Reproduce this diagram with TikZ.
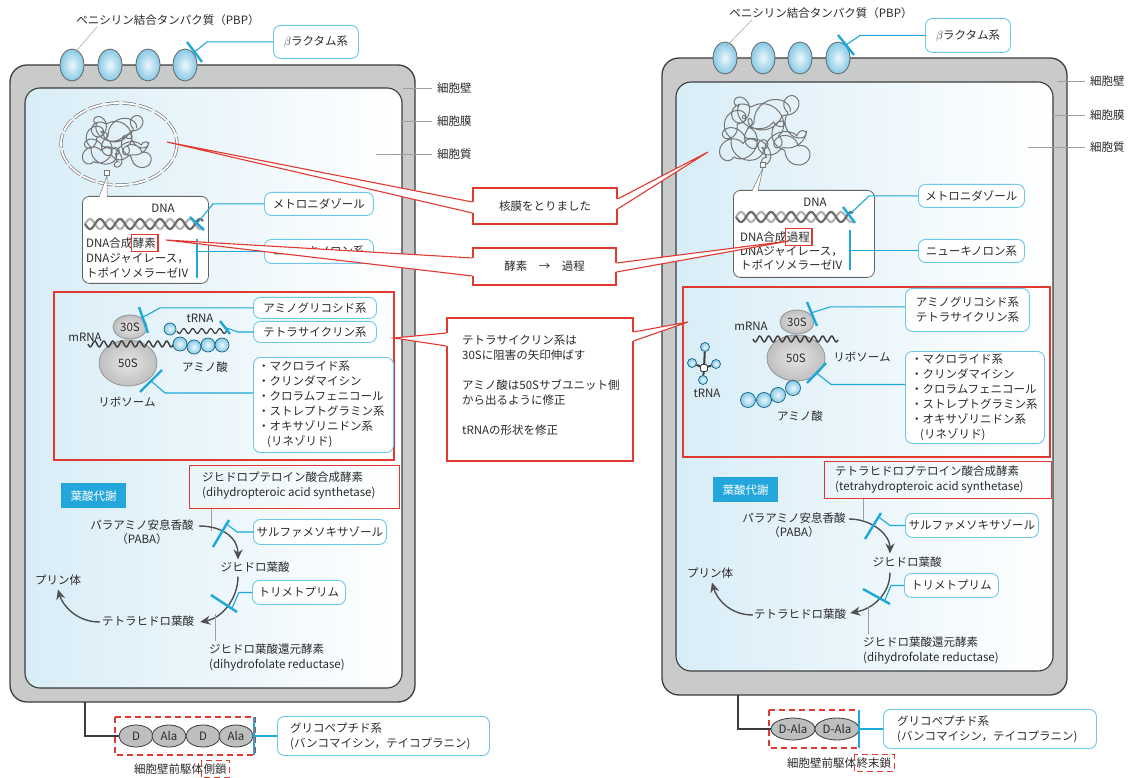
\documentclass[tikz,border=0pt]{standalone}
\usepackage{fontspec}
\setmainfont{Noto Sans CJK JP}
\usepackage{tikz}
\usetikzlibrary{arrows.meta,positioning,calc,shapes.geometric}

\definecolor{ink}{HTML}{2A2A2A}
\definecolor{edge}{HTML}{3C3C3C}
\definecolor{wallgray}{HTML}{C9CACA}
\definecolor{cellblue}{HTML}{D8EDF7}
\definecolor{pbpin}{HTML}{EEF7FB}
\definecolor{pbpout}{HTML}{86C9E6}
\definecolor{drugblue}{HTML}{1CA8DA}
\definecolor{drugedge}{HTML}{6CC8EA}
\definecolor{notered}{HTML}{E03A30}
\definecolor{tagblue}{HTML}{23A6DB}
\definecolor{alagray}{HTML}{BDBEBE}

\tikzset{
  wall/.style={draw=edge, line width=1.3pt, fill=wallgray, rounded corners=17pt},
  plasma/.style={draw=edge, line width=1.1pt, left color=cellblue, right color=white, rounded corners=15pt},
  pbp/.style={ellipse, draw=edge!80, line width=0.8pt, inner color=pbpin, outer color=pbpout,
    minimum width=24pt, minimum height=32pt, inner sep=0pt},
  lbl/.style={inner sep=0pt},
  lead/.style={draw=gray!75, line width=0.5pt},
  drug/.style={draw=drugedge, line width=0.9pt, rounded corners=7pt, fill=white, inner sep=0pt},
  block/.style={draw=drugblue, line width=2.4pt},
  link/.style={draw=drugblue, line width=1.1pt},
  dnabox/.style={draw=edge!80, line width=0.8pt, rounded corners=7pt, fill=white, inner sep=0pt},
  tangle/.style={draw=edge!70, line width=1pt},
  envelope/.style={draw=edge!70, line width=0.7pt, double=white, double distance=1.8pt, dash pattern=on 14pt off 3pt},
  strandA/.style={draw=edge!75, line width=2.2pt},
  strandB/.style={draw=edge!40, line width=2.2pt},
  rnaline/.style={draw=edge, line width=1.4pt},
  sub/.style={ellipse, draw=edge!55, line width=0.8pt, inner color=gray!20, outer color=gray!50, inner sep=0pt},
  amino/.style={circle, draw=drugblue!60!black, line width=0.7pt, inner color=pbpin, outer color=pbpout,
    minimum size=14pt, inner sep=0pt},
  redbox/.style={draw=notered, line width=1.1pt},
  reddash/.style={draw=notered, line width=1.1pt, dash pattern=on 6pt off 4pt},
  note/.style={draw=notered, line width=1.1pt, fill=white, inner sep=0pt},
  tail/.style={draw=notered, line width=1.1pt},
  tag/.style={fill=tagblue, text=white, minimum width=65pt, minimum height=25pt, inner sep=0pt},
  flow/.style={draw=edge!90, line width=1.4pt, -{Stealth[length=10pt, width=9pt]}},
  ala/.style={ellipse, draw=edge, line width=0.8pt, fill=alagray, minimum height=22pt, inner sep=0pt},
}

% tail of a note box: tip, upper attach, lower attach, overlap into the box
\newcommand\notetail[4]{%
  \fill[white] (#1) -- (#2) -- ($(#2)+(#4,0)$) -- ($(#3)+(#4,0)$) -- (#3) -- cycle;
  \draw[tail] (#2) -- (#1) -- (#3);}

\begin{document}
\begin{tikzpicture}[x=1pt, y=-1pt, font=\fontsize{11.5}{15}\selectfont, text=ink]
  \useasboundingbox (0,0) rectangle (1136,778);
  \fill[white] (0,0) rectangle (1136,778);

  %% ---------------- left cell ----------------
  % cell wall and membrane
  \draw[wall] (10,65) rectangle (415,702);
  \draw[plasma] (25,88) rectangle (402,688);

  % penicillin binding proteins
  \foreach \i/\x in {1/72,2/110,3/148,4/185}
    \node[pbp] (pbpL\i) at (\x,65) {};
  \node[lbl] (pbpTxtL) at (168,20) {ペニシリン結合タンパク質（PBP）};
  \draw[lead] ($(pbpTxtL.south west)+(21,1)$) -- ($(pbpL1.north)+(3,4)$);

  \node[drug, minimum width=85, minimum height=33, anchor=north west] (betaL) at (273,25) {$\beta$ラクタム系};
  \coordinate (bbL1) at (187,42);
  \coordinate (bbL2) at (202,62);
  \draw[block] (bbL1) -- (bbL2);
  \draw[link] ($(bbL1)!.5!(bbL2)$) -- ($(betaL.west)+(-66,0)$) -- (betaL.west);

  % wall / membrane / cytoplasm labels
  \node[lbl, anchor=west] (wallTxtL) at (437,88) {細胞壁};
  \node[lbl, anchor=west] (membTxtL) at (437,121) {細胞膜};
  \node[lbl, anchor=west] (cytoTxtL) at (437,154) {細胞質};
  \coordinate (wallPtL) at (403,88);
  \coordinate (membPtL) at (401,121);
  \coordinate (cytoPtL) at (376,154);
  \draw[lead] (wallPtL) -- ($(wallTxtL.west)+(-5,0)$);
  \draw[lead] (membPtL) -- ($(membTxtL.west)+(-5,0)$);
  \draw[lead] (cytoPtL) -- ($(cytoTxtL.west)+(-5,0)$);

  % nucleoid
  \draw[envelope] (119,144) ellipse [x radius=58, y radius=41];
  \draw[tangle] plot[domain=0:4320, samples=560, smooth, variable=\t]
    ({117+23*cos(0.23*\t+30)+9*cos(\t)+3*cos(2.7*\t)}, {142+16*sin(0.31*\t)+8*sin(\t)+3*sin(2.7*\t)});
  \node[draw=edge!70, fill=white, line width=0.6pt, minimum size=5pt, inner sep=0pt] (sqL) at (107,173) {};

  % DNA box
  \node[dnabox, minimum width=126, minimum height=87, anchor=north west] (dnaL) at (82,196) {};
  \fill[white] ($(dnaL.north west)+(17,1)$) -- (sqL.south) -- ($(dnaL.north west)+(25,1)$) -- cycle;
  \draw[lead, draw=edge!70] ($(dnaL.north west)+(17,1)$) -- (sqL.south) -- ($(dnaL.north west)+(25,1)$);
  \node[lbl] (dnaTxtL) at (163,208) {DNA};
  \draw[strandB] plot[domain=0:118, samples=120, variable=\t] ({85+\t}, {224+5*sin(18*\t+180)});
  \draw[strandA] plot[domain=0:118, samples=120, variable=\t] ({85+\t}, {224+5*sin(18*\t)});
  \node[lbl, anchor=base west] (synL) at (86,247.4) {DNA合成};
  \node[lbl, anchor=base west] (enzL) at (synL.base east) {酵素};
  \draw[redbox] ($(enzL.north west)+(-1,-3)$) rectangle ($(enzL.south east)+(2,3)$);
  \node[lbl, anchor=base west] (gyrL) at (86,262.4) {DNAジャイレース，};
  \node[lbl, anchor=base west] (topoL) at (86,277.4) {トポイソメラーゼIV};

  \node[drug, minimum width=109, minimum height=23, anchor=north west] (metL) at (264,192) {メトロニダゾール};
  \coordinate (mbL1) at (190,217);
  \coordinate (mbL2) at (204,230);
  \draw[block] (mbL1) -- (mbL2);
  \draw[link] ($(mbL1)!.5!(mbL2)$) -- ($(metL.west)+(-51,0)$) -- (metL.west);

  \node[drug, minimum width=109, minimum height=24, anchor=north west] (quiL) at (264,239) {ニューキノロン系};
  \coordinate (qbL1) at (197,239);
  \coordinate (qbL2) at (197,278);
  \draw[block] (qbL1) -- (qbL2);
  \draw[link] (qbL1 |- quiL.west) -- (quiL.west);

  % ribosome
  \draw[redbox] (54,292) rectangle (394,460);
  \node[sub, minimum width=58, minimum height=46] (s50L) at (128,363) {50S};
  \node[sub, minimum width=34, minimum height=24] (s30L) at (130,327) {30S};
  \draw[rnaline] plot[domain=88:178, samples=90, variable=\t] (\t, {344+3*sin(40*(\t-88))});
  \node[lbl] (mrnaL) at (85,337) {mRNA};
  \node[amino, minimum size=12pt] (trBallL) at (170,329) {};
  \draw[rnaline, line width=1.2pt] plot[domain=177:228, samples=60, variable=\t] (\t, {331+2.5*sin(40*(\t-177))});
  \node[lbl] (trnaL) at (200,318) {tRNA};
  \foreach \n/\x/\y in {1/180/344,2/194/347,3/208/345,4/222/345}
    \node[amino] (aaL\n) at (\x,\y) {};
  \node[lbl] (aaTxtL) at (205,367) {アミノ酸};
  \node[lbl] (riboTxtL) at (127,402) {リボソーム};

  \node[drug, minimum width=123, minimum height=21, anchor=north west] (amiL) at (253,297) {アミノグリコシド系};
  \node[drug, minimum width=123, minimum height=21, anchor=north west] (tetL) at (253,321) {テトラサイクリン系};
  \coordinate (abL1) at (139,307);
  \coordinate (abL2) at (148,333);
  \draw[block] (abL1) -- (abL2);
  \draw[link] ($(abL1)!.4!(abL2)$) -- ($(amiL.west)+(-93,0)$) -- (amiL.west);
  \coordinate (tbL1) at (220,321);
  \coordinate (tbL2) at (230,334);
  \draw[block] (tbL1) -- (tbL2);
  \draw[link] ($(tbL1)!.5!(tbL2)$) -- ($(tetL.west)+(-15,0)$) -- (tetL.west);

  \node[drug, minimum width=140, minimum height=95, anchor=north west] (macL) at (253,357) {};
  \node[lbl, anchor=west, align=left] (macTxtL) at (258,404)
    {・マクロライド系\\・クリンダマイシン\\・クロラムフェニコール\\・ストレプトグラミン系\\・オキサゾリニドン系\\\hspace*{9pt}(リネゾリド)};
  \coordinate (mlL1) at (140,392);
  \coordinate (mlL2) at (162,370);
  \draw[block] (mlL1) -- (mlL2);
  \draw[link] ($(mlL1)!.5!(mlL2)$) -- ($(macL.west)+(-88,-12)$) -- ($(macL.west)+(0,-12)$);

  % folate metabolism
  \node[tag, anchor=north west] (folTagL) at (61,483) {葉酸代謝};
  \node[redbox, minimum width=210, minimum height=43, anchor=north west, inner sep=0pt] (dhpsL) at (189,465) {};
  \node[lbl, anchor=west, align=left] (dhpsTxtL) at (202,486) {ジヒドロプテロイン酸合成酵素\\(dihydropteroic acid synthetase)};
  \coordinate (dhpsPtL) at (211,531);
  \draw[lead] (dhpsL.south -| dhpsPtL) -- (dhpsPtL);

  \node[lbl] (pabaL) at (142,525) {パラアミノ安息香酸};
  \node[lbl] (pabaAbbL) at (142,539) {（PABA）};
  \node[lbl] (dhfL) at (255,567) {ジヒドロ葉酸};
  \node[lbl] (thfL) at (148,621) {テトラヒドロ葉酸};
  \node[lbl] (purL) at (58,580) {プリン体};
  \draw[flow] ($(pabaL.east)+(5,1)$) .. controls +(26,0) and +(0,-20) .. ($(dhfL.north)+(-17,-2)$);
  \draw[flow] ($(dhfL.south)+(-17,4)$) .. controls +(0,22) and +(22,-4) .. ($(thfL.east)+(6,1)$);
  \draw[flow] ($(thfL.west)+(-2,1)$) .. controls +(-25,0) and +(4,14) .. ($(purL.south)+(0,4)$);

  \node[drug, minimum width=133, minimum height=25, anchor=north west] (sulL) at (253,519) {サルファメソキサゾール};
  \coordinate (sbL1) at (213,547);
  \coordinate (sbL2) at (229,520);
  \draw[block] (sbL1) -- (sbL2);
  \draw[link] ($(sbL1)!.85!(sbL2)$) -- ($(sulL.west)+(-16,0)$) -- (sulL.west);

  \node[drug, minimum width=93, minimum height=24, anchor=north west] (triL) at (252,580) {トリメトプリム};
  \coordinate (tmL1) at (211,595);
  \coordinate (tmL2) at (237,612);
  \draw[block] (tmL1) -- (tmL2);
  \draw[link] ($(tmL1)!.8!(tmL2)$) -- ($(triL.west)+(-13,0)$) -- (triL.west);

  \node[lbl, anchor=west, align=left] (dhfrTxtL) at (209,658) {ジヒドロ葉酸還元酵素\\(dihydrofolate reductase)};
  \coordinate (dhfrPtL) at (215,614);
  \draw[lead] (dhfrPtL) -- ($(dhfrPtL |- dhfrTxtL.north)+(0,-3)$);

  % cell wall precursor
  \node[ala, minimum width=34] (dL1) at (136,736) {D};
  \node[ala, minimum width=34] (alaL1) at (169,736) {Ala};
  \node[ala, minimum width=34] (dL2) at (203,736) {D};
  \node[ala, minimum width=34] (alaL2) at (236,736) {Ala};
  \coordinate (stemL) at (85,702);
  \draw[draw=edge, line width=1.2pt] (stemL) |- (dL1.west);
  \draw[reddash] (115,717) rectangle (255,755);
  \node[drug, minimum width=212, minimum height=39, anchor=north west] (glyL) at (277,716) {};
  \node[lbl, anchor=west, align=left] (glyTxtL) at (290,736) {グリコペプチド系\\(バンコマイシン，テイコプラニン)};
  \coordinate (gbL1) at (254,717);
  \coordinate (gbL2) at (254,755);
  \draw[block] (gbL1) -- (gbL2);
  \draw[link] (gbL1 |- glyL.west) -- (glyL.west);
  \node[lbl, anchor=base west] (precL) at (134,773.4) {細胞壁前駆体};
  \node[lbl, anchor=base west] (sideL) at (precL.base east) {側鎖};
  \draw[reddash] ($(sideL.north west)+(-2,-3)$) rectangle ($(sideL.south east)+(3,3)$);

  %% ---------------- right cell ----------------
  \draw[wall] (662,58) rectangle (1067,695);
  \draw[plasma] (676,82) rectangle (1053,671);

  \foreach \i/\x in {1/725,2/763,3/800,4/838}
    \node[pbp] (pbpR\i) at (\x,58) {};
  \node[lbl] (pbpTxtR) at (821,13) {ペニシリン結合タンパク質（PBP）};
  \draw[lead] ($(pbpTxtR.south west)+(23,1)$) -- ($(pbpR1.north)+(1,5)$);

  \node[drug, minimum width=85, minimum height=34, anchor=north west] (betaR) at (925,18) {$\beta$ラクタム系};
  \coordinate (bbR1) at (838,35);
  \coordinate (bbR2) at (854,55);
  \draw[block] (bbR1) -- (bbR2);
  \draw[link] ($(bbR1)!.5!(bbR2)$) -- ($(betaR.west)+(-65,0)$) -- (betaR.west);

  \node[lbl, anchor=west] (wallTxtR) at (1090,81) {細胞壁};
  \node[lbl, anchor=west] (membTxtR) at (1090,115) {細胞膜};
  \node[lbl, anchor=west] (cytoTxtR) at (1090,147) {細胞質};
  \coordinate (wallPtR) at (1057,81);
  \coordinate (membPtR) at (1053,115);
  \coordinate (cytoPtR) at (1028,147);
  \draw[lead] (wallPtR) -- ($(wallTxtR.west)+(-5,0)$);
  \draw[lead] (membPtR) -- ($(membTxtR.west)+(-5,0)$);
  \draw[lead] (cytoPtR) -- ($(cytoTxtR.west)+(-5,0)$);

  % nucleoid without envelope
  \draw[tangle] plot[domain=0:4320, samples=560, smooth, variable=\t]
    ({765+31*cos(0.23*\t+30)+11*cos(\t)+4*cos(2.7*\t)}, {131+22*sin(0.31*\t)+10*sin(\t)+4*sin(2.7*\t)});
  \node[draw=edge!70, fill=white, line width=0.6pt, minimum size=5pt, inner sep=0pt] (sqR) at (763,165) {};

  \node[dnabox, minimum width=141, minimum height=87, anchor=north west] (dnaR) at (733,190) {};
  \fill[white] ($(dnaR.north west)+(19,1)$) -- (sqR.south) -- ($(dnaR.north west)+(25,1)$) -- cycle;
  \draw[lead, draw=edge!70] ($(dnaR.north west)+(19,1)$) -- (sqR.south) -- ($(dnaR.north west)+(25,1)$);
  \node[lbl] (dnaTxtR) at (815,202) {DNA};
  \draw[strandB] plot[domain=0:117, samples=120, variable=\t] ({736+\t}, {217+5*sin(18*\t+180)});
  \draw[strandA] plot[domain=0:117, samples=120, variable=\t] ({736+\t}, {217+5*sin(18*\t)});
  \node[lbl, anchor=base west] (synR) at (740,241.4) {DNA合成};
  \node[lbl, anchor=base west] (procR) at (synR.base east) {過程};
  \draw[redbox] ($(procR.north west)+(-1,-3)$) rectangle ($(procR.south east)+(2,3)$);
  \node[lbl, anchor=base west] (gyrR) at (740,255.4) {DNAジャイレース，};
  \node[lbl, anchor=base west] (topoR) at (740,269.4) {トポイソメラーゼIV};

  \node[drug, minimum width=106, minimum height=23, anchor=north west] (metR) at (918,184) {メトロニダゾール};
  \coordinate (mbR1) at (843,207);
  \coordinate (mbR2) at (855,223);
  \draw[block] (mbR1) -- (mbR2);
  \draw[link] ($(mbR1)!.5!(mbR2)$) -- ($(metR.west)+(-49,0)$) -- (metR.west);

  \node[drug, minimum width=106, minimum height=23, anchor=north west] (quiR) at (918,239) {ニューキノロン系};
  \coordinate (qbR1) at (850,230);
  \coordinate (qbR2) at (850,270);
  \draw[block] (qbR1) -- (qbR2);
  \draw[link] (qbR1 |- quiR.west) -- (quiR.west);

  % ribosome
  \draw[redbox] (683,287) rectangle (1050,457);
  \node[sub, minimum width=58, minimum height=46] (s50R) at (796,358) {50S};
  \node[sub, minimum width=34, minimum height=24] (s30R) at (797,322) {30S};
  \draw[rnaline] plot[domain=753:838, samples=90, variable=\t] (\t, {339+3*sin(40*(\t-753))});
  \node[lbl] (mrnaR) at (751,326) {mRNA};
  \node[lbl] (riboTxtR) at (862,357) {リボソーム};
  \foreach \n/\x/\y in {1/748/400,2/764/400,3/778/395,4/793/388}
    \node[amino, minimum size=15pt] (aaR\n) at (\x,\y) {};
  \node[lbl] (aaTxtR) at (800,416) {アミノ酸};

  % tRNA
  \node[amino, minimum size=9pt] (trTop) at (705,347) {};
  \node[amino, minimum size=9pt] (trLeft) at (692,363) {};
  \node[amino, minimum size=9pt] (trRight) at (716,364) {};
  \node[amino, minimum size=9pt] (trBot) at (703,380) {};
  \node[draw=edge, fill=white, line width=0.8pt, rounded corners=1.5pt, minimum size=7pt, inner sep=0pt] (trCore) at (704,368) {};
  \draw[draw=edge, line width=2pt] (trCore) -- (trTop) (trCore) -- (trLeft)
    (trCore) -- (trRight) (trCore) -- (trBot);
  \node[lbl] (trnaR) at (707,393) {tRNA};

  \node[drug, minimum width=124, minimum height=43, anchor=north west, align=left] (amtR) at (905,288)
    {アミノグリコシド系\\テトラサイクリン系};
  \coordinate (abR1) at (807,302);
  \coordinate (abR2) at (817,326);
  \draw[block] (abR1) -- (abR2);
  \draw[link] ($(abR1)!.45!(abR2)$) -- ($(amtR.west)+(-75,-3)$) -- ($(amtR.west)+(0,-3)$);

  \node[drug, minimum width=139, minimum height=92, anchor=north west] (macR) at (905,351) {};
  \node[lbl, anchor=west, align=left] (macTxtR) at (911,397)
    {・マクロライド系\\・クリンダマイシン\\・クロラムフェニコール\\・ストレプトグラミン系\\・オキサゾリニドン系\\\hspace*{9pt}(リネゾリド)};
  \coordinate (mlR1) at (807,383);
  \coordinate (mlR2) at (826,363);
  \draw[block] (mlR1) -- (mlR2);
  \draw[link] ($(mlR1)!.5!(mlR2)$) -- ($(macR.west)+(-74,-13)$) -- ($(macR.west)+(0,-13)$);

  % folate metabolism
  \node[tag, anchor=north west] (folTagR) at (713,477) {葉酸代謝};
  \node[redbox, minimum width=227, minimum height=37, anchor=north west, inner sep=0pt] (thpsR) at (824,461) {};
  \node[lbl, anchor=west, align=left] (thpsTxtR) at (835,479.5) {テトラヒドロプテロイン酸合成酵素\\(tetrahydropteroic acid synthetase)};
  \coordinate (thpsPtR) at (863,520);
  \draw[lead] (thpsR.south -| thpsPtR) -- (thpsPtR);

  \node[lbl] (pabaR) at (794,518) {パラアミノ安息香酸};
  \node[lbl] (pabaAbbR) at (794,532) {（PABA）};
  \node[lbl] (dhfR) at (907,562) {ジヒドロ葉酸};
  \node[lbl] (thfR) at (800,614) {テトラヒドロ葉酸};
  \node[lbl] (purR) at (710,573) {プリン体};
  \draw[flow] ($(pabaR.east)+(3,1)$) .. controls +(24,0) and +(0,-18) .. ($(dhfR.north)+(-17,-3)$);
  \draw[flow] ($(dhfR.south)+(-17,5)$) .. controls +(0,22) and +(22,-4) .. ($(thfR.east)+(4,-1)$);
  \draw[flow] ($(thfR.west)+(-1,1)$) .. controls +(-25,0) and +(4,14) .. ($(purR.south)+(2,4)$);

  \node[drug, minimum width=133, minimum height=24, anchor=north west] (sulR) at (905,513) {サルファメソキサゾール};
  \coordinate (sbR1) at (865,539);
  \coordinate (sbR2) at (881,513);
  \draw[block] (sbR1) -- (sbR2);
  \draw[link] ($(sbR1)!.85!(sbR2)$) -- ($(sulR.west)+(-15,0)$) -- (sulR.west);

  \node[drug, minimum width=94, minimum height=24, anchor=north west] (triR) at (904,573) {トリメトプリム};
  \coordinate (tmR1) at (863,589);
  \coordinate (tmR2) at (890,604);
  \draw[block] (tmR1) -- (tmR2);
  \draw[link] ($(tmR1)!.8!(tmR2)$) -- ($(triR.west)+(-13,0)$) -- (triR.west);

  \node[lbl, anchor=west, align=left] (dhfrTxtR) at (863,651) {ジヒドロ葉酸還元酵素\\(dihydrofolate reductase)};
  \coordinate (dhfrPtR) at (868,607);
  \draw[lead] (dhfrPtR) -- ($(dhfrPtR |- dhfrTxtR.north)+(0,-3)$);

  % cell wall precursor
  \node[ala, minimum width=44] (daR1) at (793,729) {D-Ala};
  \node[ala, minimum width=44] (daR2) at (837,729) {D-Ala};
  \coordinate (stemR) at (738,695);
  \draw[draw=edge, line width=1.2pt] (stemR) |- (daR1.west);
  \draw[reddash] (769,710) rectangle (859,748);
  \node[drug, minimum width=213, minimum height=39, anchor=north west] (glyR) at (883,709) {};
  \node[lbl, anchor=west, align=left] (glyTxtR) at (897,729.5) {グリコペプチド系\\(バンコマイシン，テイコプラニン)};
  \coordinate (gbR1) at (859,710);
  \coordinate (gbR2) at (859,748);
  \draw[block] (gbR1) -- (gbR2);
  \draw[link] (gbR1 |- glyR.west) -- (glyR.west);
  \node[lbl, anchor=base west] (precR) at (787,767.4) {細胞壁前駆体};
  \node[lbl, anchor=base west] (endR) at (precR.base east) {終末鎖};
  \draw[reddash] ($(endR.north west)+(-2,-3)$) rectangle ($(endR.south east)+(3,3)$);

  %% ---------------- notes between the cells ----------------
  \node[note, minimum width=144, minimum height=36] (noteA) at (545,206) {核膜をとりました};
  \coordinate (tipA1) at (167,142);
  \coordinate (tipA2) at (708,152);
  \coordinate (atA1) at ($(noteA.west)+(0,-4)$);
  \coordinate (atA2) at ($(noteA.west)+(0,7)$);
  \coordinate (atA3) at ($(noteA.east)+(0,-7)$);
  \coordinate (atA4) at ($(noteA.east)+(0,3)$);
  \notetail{tipA1}{atA1}{atA2}{2}
  \notetail{tipA2}{atA3}{atA4}{-2}

  \node[note, minimum width=143, minimum height=37] (noteB) at (544.5,266.5) {酵素\quad\char"2192\quad 過程};
  \coordinate (tipB1) at (166,240);
  \coordinate (tipB2) at (789,241);
  \coordinate (atB1) at ($(noteB.west)+(0,-8.5)$);
  \coordinate (atB2) at ($(noteB.west)+(0,9.5)$);
  \coordinate (atB3) at ($(noteB.east)+(0,-3.5)$);
  \coordinate (atB4) at ($(noteB.east)+(0,5.5)$);
  \notetail{tipB1}{atB1}{atB2}{2}
  \notetail{tipB2}{atB3}{atB4}{-2}

  \node[note, minimum width=186, minimum height=143] (noteC) at (540,389.5) {};
  \coordinate (tipC1) at (394,338);
  \coordinate (tipC2) at (688,322);
  \coordinate (atC1) at ($(noteC.west)+(0,-56.5)$);
  \coordinate (atC2) at ($(noteC.west)+(0,-43.5)$);
  \coordinate (atC3) at ($(noteC.east)+(0,-57.5)$);
  \coordinate (atC4) at ($(noteC.east)+(0,-48.5)$);
  \notetail{tipC1}{atC1}{atC2}{2}
  \notetail{tipC2}{atC3}{atC4}{-2}
  \node[lbl, anchor=north west, align=left] (noteCTxt) at (462,335)
    {テトラサイクリン系は\\30Sに阻害の矢印伸ばす\\[15pt]アミノ酸は50Sサブユニット側\\から出るように修正\\[15pt]tRNAの形状を修正};
\end{tikzpicture}
\end{document}
